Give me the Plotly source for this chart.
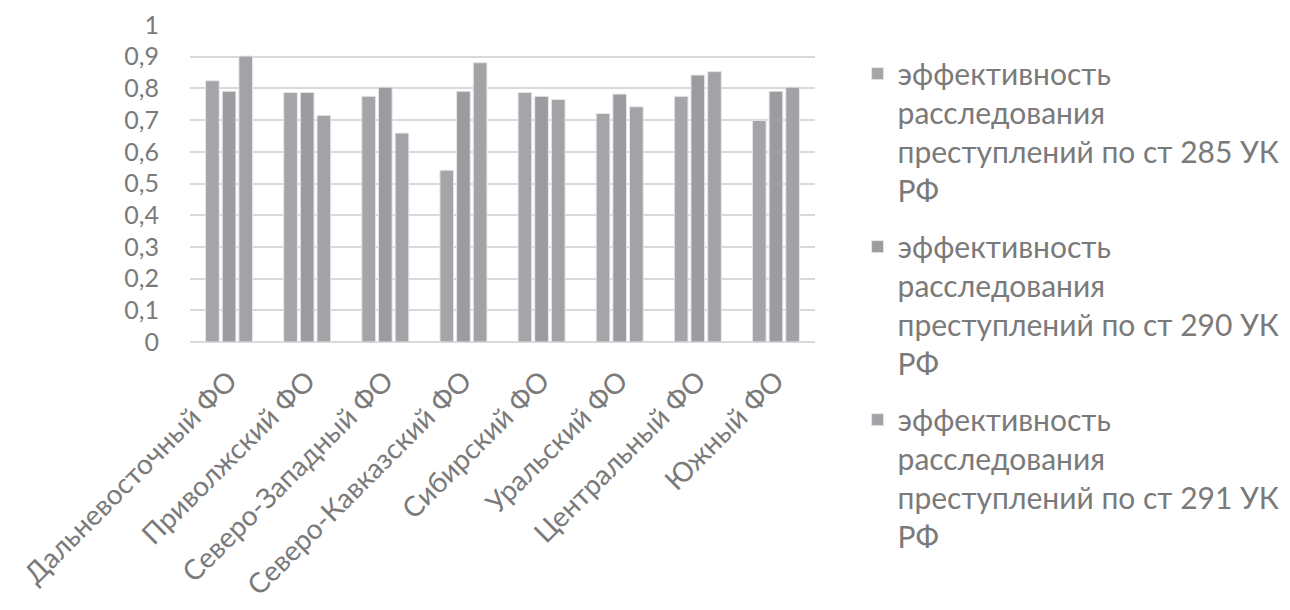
import plotly.graph_objects as go

categories = ["Дальневосточный ФО", "Приволжский ФО", "Северо-Западный ФО",
              "Северо-Кавказский ФО", "Сибирский ФО", "Уральский ФО",
              "Центральный ФО", "Южный ФО"]
s285 = [0.824, 0.787, 0.775, 0.542, 0.787, 0.721, 0.775, 0.699]
s290 = [0.791, 0.787, 0.804, 0.791, 0.775, 0.782, 0.842, 0.791]
s291 = [0.902, 0.715, 0.659, 0.881, 0.765, 0.742, 0.853, 0.804]
names = [
    "эффективность<br>расследования<br>преступлений по ст 285 УК<br>РФ",
    "эффективность<br>расследования<br>преступлений по ст 290 УК<br>РФ",
    "эффективность<br>расследования<br>преступлений по ст 291 УК<br>РФ",
]
colors = ["#a4a5a9", "#9b9ca0", "#a2a3a7"]
yticks = [i / 10 for i in range(11)]
yticklabels = ["0"] + [f"0,{i}" for i in range(1, 10)] + ["1"]

fig = go.Figure()
for i, (vals, name, col) in enumerate(zip([s285, s290, s291], names, colors)):
    fig.add_trace(go.Bar(x=categories, y=vals, name=name, legendgroup=f"g{i}",
                         marker=dict(color=col, line=dict(color="#e6e6e6", width=1))))

fig.update_layout(
    width=1290, height=610,
    margin=dict(l=182, r=483, t=17, b=276, autoexpand=False),
    paper_bgcolor="white", plot_bgcolor="white",
    barmode="group", bargap=0.36, bargroupgap=0.18,
    font=dict(family="Lato, 'Open Sans', sans-serif", color="#7a7a7a"),
    showlegend=True,
    legend=dict(xref="container", yref="container", x=0.6586, y=0.935,
                xanchor="left", yanchor="top", valign="top",
                font=dict(size=30, color="#7a7a7a"),
                tracegroupgap=14, maxheight=600),
    xaxis=dict(tickangle=-45, tickfont=dict(size=28, color="#7a7a7a"),
               showline=False, ticks="", automargin=False,
               ticklabelstandoff=16, ticklabeloverflow="allow"),
    yaxis=dict(range=[0, 1.0], tickvals=yticks, ticktext=yticklabels,
               tickfont=dict(size=25, color="#7a7a7a"),
               showgrid=True, gridcolor="#d9d9d9", gridwidth=1.5,
               zeroline=True, zerolinecolor="#d9d9d9", zerolinewidth=1.5,
               ticklabelstandoff=30, automargin=False,
               ticklabeloverflow="allow"),
)
fig.write_html("out.html")
